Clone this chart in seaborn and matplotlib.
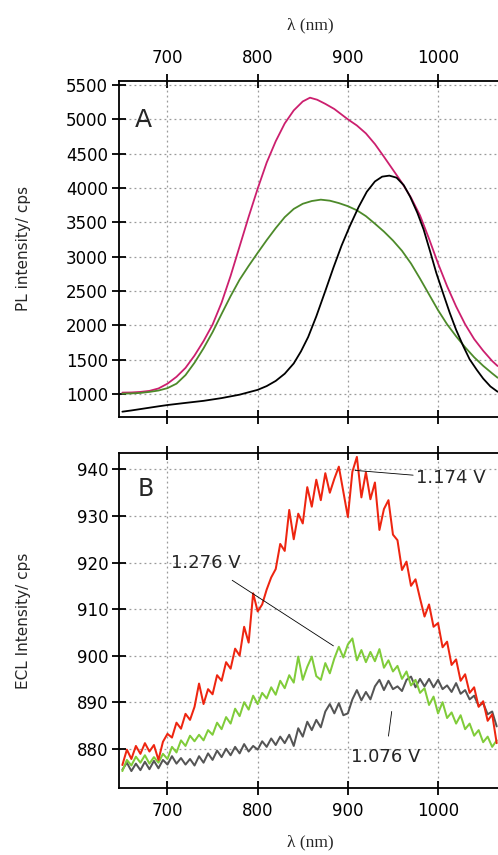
import numpy as np
import pandas as pd
import matplotlib
matplotlib.use("Agg")
import matplotlib.pyplot as plt
import seaborn as sns

# ---------------- Panel A data (PL spectra) ----------------
pl_magenta_wl = [650, 660, 670, 680, 690, 700, 710, 720, 730, 740, 750, 760, 770, 780, 790,
                 800, 810, 820, 830, 840, 850, 858, 866, 875, 885, 900, 910, 920, 930, 940,
                 950, 960, 970, 980, 990, 1000, 1010, 1020, 1030, 1040, 1050, 1060, 1066]
pl_magenta = [1020, 1022, 1030, 1045, 1080, 1150, 1250, 1380, 1560, 1770, 2010, 2330, 2720, 3150, 3580,
              3990, 4370, 4680, 4940, 5130, 5260, 5315, 5285, 5225, 5150, 5000, 4910, 4795, 4640, 4455,
              4265, 4075, 3860, 3600, 3260, 2900, 2570, 2275, 2015, 1800, 1630, 1480, 1407]

pl_green_wl = [650, 660, 670, 680, 690, 700, 710, 720, 730, 740, 750, 760, 770, 780, 790,
               800, 810, 820, 830, 840, 850, 860, 870, 880, 890, 900, 910, 920, 930, 940,
               950, 960, 970, 980, 990, 1000, 1010, 1020, 1030, 1040, 1050, 1060, 1066]
pl_green = [1005, 1008, 1015, 1030, 1050, 1085, 1150, 1275, 1455, 1665, 1900, 2165, 2425, 2665, 2865,
            3055, 3240, 3415, 3575, 3695, 3770, 3810, 3830, 3815, 3780, 3735, 3675, 3590, 3480, 3365,
            3235, 3085, 2900, 2680, 2450, 2220, 2015, 1840, 1680, 1535, 1410, 1300, 1237]

pl_black_wl = [650, 660, 670, 680, 690, 700, 720, 740, 760, 780, 800, 810, 820, 830, 840,
               848, 856, 865, 875, 884, 893, 902, 912, 921, 930, 938, 946, 954, 962, 969, 977,
               984, 991, 998, 1006, 1013, 1020, 1028, 1035, 1043, 1050, 1058, 1066]
pl_black = [742, 760, 780, 800, 820, 839, 870, 900, 940, 990, 1060, 1115, 1190, 1295, 1445,
            1620, 1830, 2130, 2500, 2840, 3160, 3440, 3725, 3945, 4095, 4165, 4180, 4150, 4040, 3874, 3640,
            3395, 3085, 2765, 2450, 2180, 1935, 1695, 1505, 1350, 1225, 1110, 1033]

# ---------------- Panel B data (ECL spectra) ----------------
ecl_wl = list(range(650, 1070, 5))
ecl_1174 = [876.5, 879.8, 877.8, 880.6, 878.9, 881.2, 879.4, 880.8, 877.6, 881.5,
            883.2, 882.4, 885.6, 884.3, 887.5, 886.2, 889.0, 894.0, 889.6, 892.8,
            891.7, 895.8, 894.6, 898.6, 897.2, 901.5, 900.0, 906.2, 902.8, 913.4,
            909.5, 911.0, 914.2, 916.8, 918.6, 924.0, 922.5, 931.3, 925.0, 930.5,
            928.4, 936.2, 932.0, 937.8, 933.4, 939.2, 935.0, 938.0, 940.6, 935.2,
            929.8, 939.5, 942.7, 934.0, 939.4, 933.6, 937.2, 927.0, 931.5, 933.4,
            926.0, 924.8, 918.4, 920.2, 915.0, 916.4, 912.3, 908.4, 911.0, 906.2,
            907.0, 901.8, 903.0, 898.0, 899.2, 894.6, 896.0, 892.0, 893.2, 889.0,
            890.2, 886.0, 887.4, 881.2]
ecl_1276 = [875.2, 877.6, 876.4, 878.3, 877.0, 878.6, 876.8, 878.2, 877.0, 878.9,
            877.8, 880.4, 879.2, 881.8, 880.6, 882.8, 881.6, 883.0, 881.8, 884.0,
            883.0, 885.6, 884.2, 886.8, 885.4, 888.6, 887.0, 890.0, 888.4, 891.4,
            889.6, 892.0, 890.8, 893.2, 891.6, 894.6, 893.0, 895.8, 894.2, 899.8,
            894.8, 897.6, 899.8, 895.6, 894.8, 898.4, 896.2, 899.4, 901.9, 899.6,
            902.4, 903.7, 899.0, 901.2, 898.6, 900.8, 898.8, 901.4, 897.4, 899.0,
            896.6, 897.8, 895.0, 896.6, 893.6, 894.8, 892.0, 893.0, 889.4, 891.2,
            887.6, 890.0, 886.6, 887.8, 885.4, 887.2, 884.2, 885.4, 882.8, 884.0,
            881.4, 882.6, 880.4, 881.8]
ecl_1076 = [875.5, 877.0, 875.2, 876.8, 875.4, 877.2, 875.6, 877.4, 875.8, 877.6,
            876.6, 878.4, 876.8, 878.0, 876.6, 877.8, 876.4, 878.4, 877.0, 879.0,
            877.6, 879.6, 878.2, 880.0, 878.6, 880.4, 879.0, 881.0, 879.4, 880.6,
            879.8, 881.6, 880.4, 882.2, 880.8, 882.6, 881.2, 883.0, 880.6, 884.4,
            882.6, 885.8, 884.0, 886.2, 884.6, 888.0, 889.6, 887.6, 889.8, 887.2,
            887.6, 890.6, 892.6, 890.4, 892.2, 890.6, 893.4, 894.8, 892.6, 894.6,
            892.8, 893.4, 892.4, 894.8, 895.5, 893.2, 895.0, 893.4, 895.0, 893.2,
            894.8, 892.8, 893.6, 892.2, 894.1, 891.8, 892.6, 890.6, 891.4, 889.2,
            889.8, 887.4, 888.0, 884.8]

x_ticks = [700, 800, 900, 1000]
yA_ticks = [1000, 1500, 2000, 2500, 3000, 3500, 4000, 4500, 5000, 5500]
yB_ticks = [880, 890, 900, 910, 920, 930, 940]

sns.set_theme(style="white")
plt.rcParams['font.family'] = ['DejaVu Sans']

W, H = 498, 855
fig = plt.figure(figsize=(W / 100, H / 100), dpi=100)
left_px, right_px = 119.3, 501.2
axA = fig.add_axes([left_px / W, (H - 416.7) / H, (right_px - left_px) / W, (416.7 - 81) / H])
axB = fig.add_axes([left_px / W, (H - 788.3) / H, (right_px - left_px) / W, (788.3 - 452.7) / H])

def draw(ax, wl, vals, color, lw=1.3):
    df = pd.DataFrame({"wl": wl, "v": vals})
    sns.lineplot(data=df, x="wl", y="v", ax=ax, color=color, linewidth=lw,
                 estimator=None, sort=False, legend=False)

draw(axA, pl_magenta_wl, pl_magenta, "#cc1f6e")
draw(axA, pl_green_wl, pl_green, "#4d8a2a")
draw(axA, pl_black_wl, pl_black, "#000000")

draw(axB, ecl_wl, ecl_1076, "#555555", 1.45)
draw(axB, ecl_wl, ecl_1276, "#80cc3a", 1.45)
draw(axB, ecl_wl, ecl_1174, "#ee2510", 1.45)

serif = ['Liberation Serif', 'DejaVu Serif']
for ax in (axA, axB):
    ax.set_xlim(646.6, 1070)
    ax.set_xticks(x_ticks)
    ax.grid(True, color="#9a9a9a", linestyle=(0, (1.5, 2.5)), linewidth=0.9)
    ax.set_axisbelow(True)
    ax.spines['right'].set_visible(False)
    for s in ('top', 'bottom', 'left'):
        ax.spines[s].set_visible(True)
        ax.spines[s].set_color('black')
        ax.spines[s].set_linewidth(1.3)
    ax.tick_params(axis='both', direction='inout', length=10, width=1.3, color='black',
                   labelsize=12, labelcolor='black')
    ax.tick_params(axis='x', pad=5, top=True, bottom=True)
    ax.tick_params(axis='y', pad=3, left=True, right=False)

axA.set_ylim(669, 5558)
axA.set_yticks(yA_ticks)
axA.tick_params(axis='x', labeltop=True, labelbottom=False)
axA.xaxis.set_label_position('top')
axA.set_xlabel("λ (nm)", family=serif, fontsize=12.5, labelpad=14)
axA.set_ylabel("PL intensity/ cps", fontsize=11)
axA.yaxis.set_label_coords(-0.232, 0.5)
axA.text(0.064, 0.884, "A", transform=axA.transAxes, fontsize=18, ha='center', va='center')

axB.set_ylim(871.5, 943.6)
axB.set_yticks(yB_ticks)
axB.tick_params(axis='x', labeltop=False, labelbottom=True)
axB.set_xlabel("λ (nm)", family=serif, fontsize=12.5, labelpad=10)
axB.set_ylabel("ECL Intensity/ cps", fontsize=11)
axB.yaxis.set_label_coords(-0.232, 0.5)
axB.text(0.07, 0.892, "B", transform=axB.transAxes, fontsize=17, ha='center', va='center')

# annotations
axB.annotate("1.174 V", xy=(908, 939.8), xytext=(976, 938.1), fontsize=13,
             ha='left', va='center',
             arrowprops=dict(arrowstyle='-', color='black', lw=0.6, shrinkA=0, shrinkB=0))
axB.annotate("1.276 V", xy=(884, 902.1), xytext=(743, 919.8), fontsize=13,
             ha='center', va='center',
             arrowprops=dict(arrowstyle='-', color='black', lw=0.6, shrinkA=6, shrinkB=0))
axB.annotate("1.076 V", xy=(948.6, 888.0), xytext=(942, 878.3), fontsize=13,
             ha='center', va='center',
             arrowprops=dict(arrowstyle='-', color='black', lw=0.6, shrinkA=6, shrinkB=0))

fig.savefig("out.png", dpi=100)
